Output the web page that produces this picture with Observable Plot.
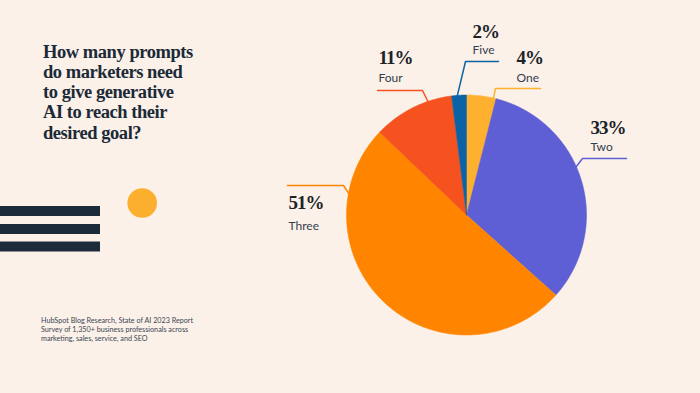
<!DOCTYPE html>
<html>
<head>
<meta charset="utf-8">
<script src="https://cdn.jsdelivr.net/npm/d3@7"></script>
<script src="https://cdn.jsdelivr.net/npm/@observablehq/plot@0.6"></script>
<style>
  html, body { margin: 0; padding: 0; background: #FBF1E8; }
  #wrap { position: relative; width: 700px; height: 393px; overflow: hidden; background: #FBF1E8; }
  #chart { position: absolute; left: 0; top: 0; }
  #title { position: absolute; left: 43px; top: 41.5px; margin: 0;
    font-family: "Liberation Serif", "DejaVu Serif", serif; font-weight: 700;
    font-size: 18.5px; line-height: 20.3px; color: #1B2A38; letter-spacing: -0.45px; }
  #caption { position: absolute; left: 41px; top: 317px; margin: 0;
    font-family: Lato, "Noto Sans", sans-serif; font-size: 7.2px; line-height: 8.8px; color: #3A4655; }
</style>
</head>
<body>
<div id="wrap">
  <div id="chart"></div>
  <h1 id="title">How many prompts<br>do marketers need<br>to give generative<br>AI to reach their<br>desired goal?</h1>
  <p id="caption">HubSpot Blog Research, State of AI 2023 Report<br>Survey of 1,350+ business professionals across<br>marketing, sales, service, and SEO</p>
</div>
<script>
// ---- data ----
const categories = ["One", "Two", "Three", "Four", "Five"];
const values = [4, 33, 51, 11, 2];
const percentLabels = ["4%", "33%", "51%", "11%", "2%"];
const colors = ["#FDB12F", "#5E5FD5", "#FF8500", "#F5521F", "#0B63A6"];

// ---- layout (positions of annotation labels, not data) ----
const W = 700, H = 393;
const cx = 466, cy = 214.5, R = 120;
const labelX = [516, 590, 288, 378, 472];
const labelY = [63, 133, 208, 63, 37];
const nameDy = [18, 17, 21, 18, 16];
const leaderY = [88, 158, 185, 90, 61];
const leaderFar = [540, 626, 287, 377, 498];
const leaderElbow = [495, 582, 343, 422, 465];
const leaderAngle = [13, 66.5, 280, 341.3, 355.5];

// pie geometry from data
const arcs = d3.pie().sort(null).value(d => d)(values);
const slicePts = [];
arcs.forEach((a, i) => {
  const k = categories[i];
  slicePts.push({k, x: cx, y: cy});
  const n = Math.max(4, Math.ceil((a.endAngle - a.startAngle) / 0.01));
  for (let j = 0; j <= n; j++) {
    const t = a.startAngle + (a.endAngle - a.startAngle) * j / n;
    slicePts.push({k, x: cx + R * Math.sin(t), y: cy - R * Math.cos(t)});
  }
  slicePts.push({k, x: cx, y: cy});
});

const leaderPts = [];
categories.forEach((k, i) => {
  const t = leaderAngle[i] * Math.PI / 180;
  leaderPts.push({k, x: leaderFar[i], y: leaderY[i]});
  leaderPts.push({k, x: leaderElbow[i], y: leaderY[i]});
  leaderPts.push({k, x: cx + (R - 1) * Math.sin(t), y: cy - (R - 1) * Math.cos(t)});
});

const labelRows = categories.map((k, i) => ({k, p: percentLabels[i], x: labelX[i], y: labelY[i], y2: labelY[i] + nameDy[i]}));

// decorations
const stripes = [{y1: 206, y2: 216}, {y1: 224, y2: 234}, {y1: 241.5, y2: 251.5}];

const chart = Plot.plot({
  width: W, height: H,
  margin: 0,
  x: {domain: [0, W], range: [0, W], axis: null},
  y: {domain: [0, H], range: [0, H], axis: null},
  color: {domain: categories, range: colors},
  style: {background: "#FBF1E8", overflow: "visible"},
  marks: [
    Plot.rect(stripes, {x1: 0, x2: 100, y1: "y1", y2: "y2", fill: "#1C2B39"}),
    Plot.dot([{x: 141.7, y: 202.5}], {x: "x", y: "y", r: 14.8, fill: "#FCAF2E", stroke: "none"}),
    Plot.line(leaderPts, {x: "x", y: "y", z: "k", stroke: "k", strokeWidth: 1.5, curve: "linear"}),
    Plot.line(slicePts, {x: "x", y: "y", z: "k", fill: "k", stroke: "k", strokeWidth: 0.5, curve: "linear"}),
    Plot.text(labelRows, {x: "x", y: "y", text: "p", textAnchor: "start", lineAnchor: "bottom",
      fontFamily: "Liberation Serif, DejaVu Serif, serif", fontWeight: 700, fontSize: 19, fill: "#1B2328"}),
    Plot.text(labelRows, {x: "x", y: "y2", text: "k", textAnchor: "start", lineAnchor: "bottom",
      fontFamily: "Lato, Noto Sans, sans-serif", fontSize: 12, fill: "#33404D"})
  ]
});
chart.querySelectorAll("g[aria-label='text']").forEach((g, i) => { if (i === 0) g.setAttribute("letter-spacing", "-1"); });
document.getElementById("chart").appendChild(chart);
</script>
</body>
</html>
